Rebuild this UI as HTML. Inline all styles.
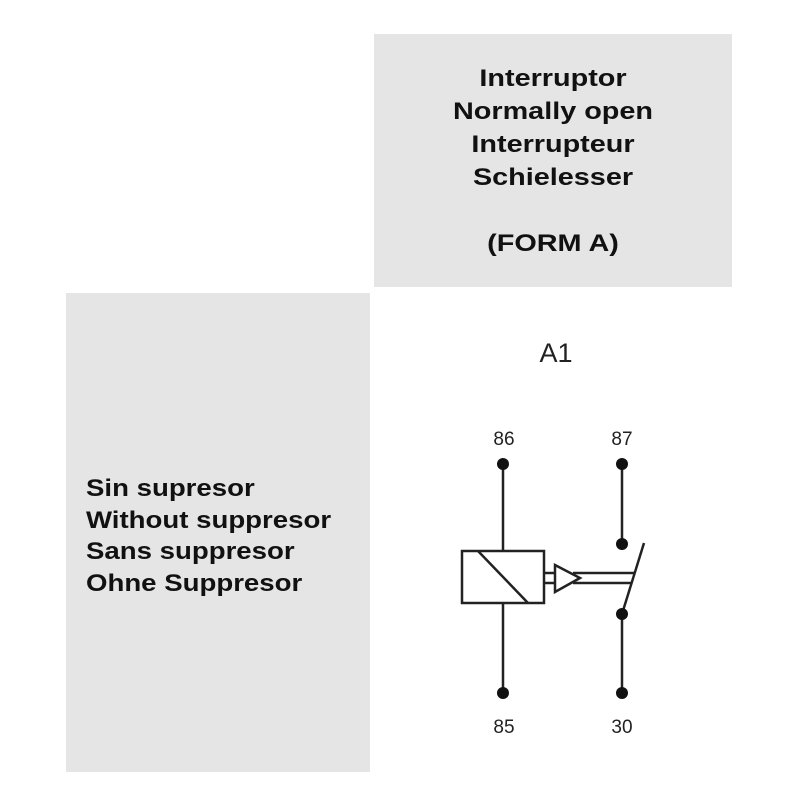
<!DOCTYPE html>
<html><head><style>
body{margin:0;width:800px;height:800px;background:#fff;position:relative;overflow:hidden;font-family:"Liberation Sans",sans-serif;}
.box{position:absolute;background:#e5e5e5;}
.t{position:absolute;font-weight:bold;font-size:24px;color:#111;}
</style></head><body>
<div class="box" style="left:374px;top:34px;width:358px;height:253px"></div>
<div class="box" style="left:66px;top:293px;width:304px;height:479px"></div>
<div class="t" style="left:374px;width:358px;top:62px;text-align:center;line-height:33px;transform:scaleX(1.2);transform-origin:179px 0">Interruptor<br>Normally open<br>Interrupteur<br>Schielesser<br><br>(FORM A)</div>
<div class="t" style="left:86px;top:473px;line-height:31.5px;transform:scaleX(1.15);transform-origin:0 0">Sin supresor<br>Without suppresor<br>Sans suppresor<br>Ohne Suppresor</div>
<svg width="800" height="800" style="position:absolute;left:0;top:0">
<g font-family="Liberation Sans" fill="#222" text-anchor="middle">
<text x="556" y="362" font-size="27">A1</text>
<text x="504" y="445" font-size="19">86</text>
<text x="622" y="445" font-size="19">87</text>
<text x="504" y="733" font-size="19">85</text>
<text x="622" y="733" font-size="19">30</text>
</g>
<g stroke="#222" stroke-width="2.5" fill="none">
<line x1="503" y1="464" x2="503" y2="551"/>
<line x1="503" y1="603" x2="503" y2="693"/>
<rect x="462" y="551" width="82" height="52"/>
<line x1="478" y1="551" x2="528" y2="603"/>
<line x1="544" y1="573" x2="555" y2="573"/>
<line x1="544" y1="583" x2="555" y2="583"/>
<polygon points="555,565 580,578 555,592"/>
<line x1="573" y1="573" x2="635" y2="573"/>
<line x1="573" y1="583" x2="632" y2="583"/>
<line x1="622" y1="464" x2="622" y2="544"/>
<line x1="622" y1="614" x2="622" y2="693"/>
<line x1="622" y1="614" x2="644" y2="543"/>
</g>
<g fill="#111">
<circle cx="503" cy="464" r="6"/><circle cx="503" cy="693" r="6"/>
<circle cx="622" cy="464" r="6"/><circle cx="622" cy="544" r="6"/>
<circle cx="622" cy="614" r="6"/><circle cx="622" cy="693" r="6"/>
</g>
</svg>
</body></html>
